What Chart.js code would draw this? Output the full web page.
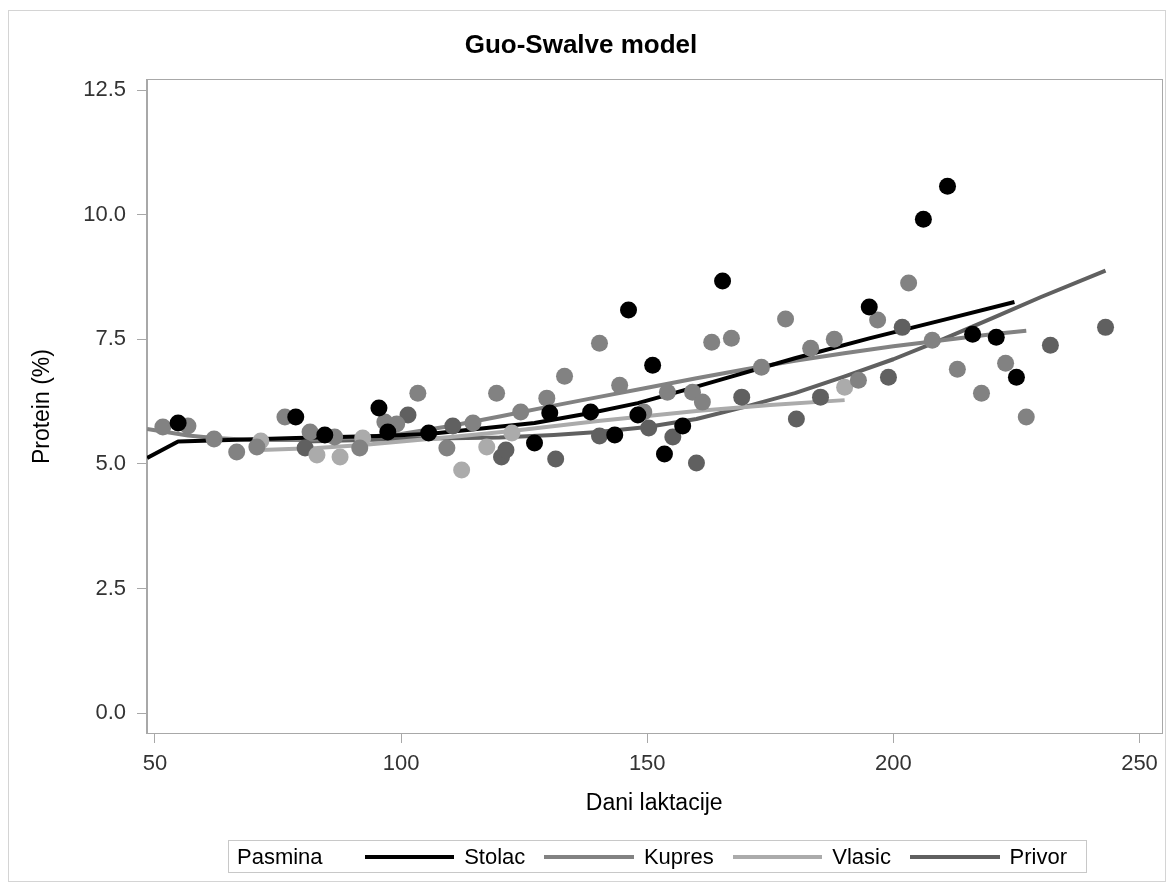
<!DOCTYPE html>
<html>
<head>
<meta charset="utf-8">
<script src="https://cdn.jsdelivr.net/npm/chart.js@4/dist/chart.umd.min.js"></script>
<style>
  html, body { margin: 0; padding: 0; background: #fff; }
  #wrap { position: relative; width: 1170px; height: 885px; }
  #chart { position: absolute; left: 0; top: 0; }
  #legend {
    position: absolute; left: 228px; top: 840px; width: 857px; height: 31px;
    border: 1px solid #c8c8c8; box-sizing: content-box;
    display: flex; align-items: center; padding: 0;
    font-family: "Liberation Sans", Arial, sans-serif; font-size: 22px; color: #000;
  }
  #legend .ttl { margin-left: 8px; margin-right: 42px; }
  #legend .ln { width: 92px; height: 4px; margin-right: 10px; }
  #legend .tx { margin-right: 19px; }
</style>
</head>
<body>
<div id="wrap">
  <canvas id="chart" width="1170" height="885"></canvas>
  <div id="legend"></div>
</div>
<script>
// ---------------- data ----------------
const chartTitle = 'Guo-Swalve model';
const xAxisTitle = 'Dani laktacije';
const yAxisTitle = 'Protein (%)';
const legendTitle = 'Pasmina';
const seriesNames = ['Stolac', 'Kupres', 'Vlasic', 'Privor'];

const xTickValues = [50, 100, 150, 200, 250];
const yTickValues = [0, 2.5, 5, 7.5, 10, 12.5];

// observed points (day of lactation, protein %)
const stolacDays = [54.7, 78.6, 84.5, 95.5, 97.3, 105.6, 127.1, 130.2, 138.5, 143.4, 146.2, 148.1, 151.1, 153.5, 157.2, 165.3, 195.1, 206.1, 211.0, 216.1, 220.9, 225.0];
const stolacProtein = [5.82, 5.94, 5.58, 6.12, 5.64, 5.62, 5.42, 6.02, 6.04, 5.58, 8.09, 5.98, 6.98, 5.20, 5.76, 8.67, 8.15, 9.91, 10.57, 7.60, 7.54, 6.74];

const kupresDays = [51.6, 56.7, 62.0, 66.6, 70.7, 76.4, 81.5, 86.5, 91.6, 96.7, 99.1, 103.4, 109.3, 114.6, 119.4, 124.3, 129.6, 133.2, 140.3, 144.4, 149.3, 154.1, 159.2, 161.2, 163.1, 167.1, 173.2, 178.1, 183.2, 188.0, 192.9, 196.8, 203.1, 207.9, 213.0, 217.9, 222.8, 227.0];
const kupresProtein = [5.74, 5.76, 5.50, 5.24, 5.34, 5.94, 5.64, 5.54, 5.32, 5.84, 5.80, 6.42, 5.32, 5.82, 6.42, 6.04, 6.32, 6.76, 7.42, 6.58, 6.04, 6.44, 6.44, 6.24, 7.44, 7.52, 6.94, 7.91, 7.32, 7.50, 6.68, 7.89, 8.63, 7.48, 6.90, 6.42, 7.02, 5.94];

const vlasicDays = [71.5, 82.9, 87.6, 92.2, 112.3, 117.4, 122.5, 190.1];
const vlasicProtein = [5.46, 5.18, 5.14, 5.52, 4.88, 5.34, 5.62, 6.54];

const privorDays = [80.5, 101.4, 110.5, 120.4, 121.3, 131.4, 140.3, 150.3, 155.2, 160.0, 169.2, 180.3, 185.2, 199.0, 201.8, 231.9, 243.1];
const privorProtein = [5.32, 5.98, 5.76, 5.14, 5.28, 5.10, 5.56, 5.72, 5.54, 5.02, 6.34, 5.90, 6.34, 6.74, 7.74, 7.38, 7.74];

// fitted model curves
const stolacFitDays = [48.4, 54.7, 78.6, 95.5, 105.6, 127.1, 138.5, 148.1, 157.2, 165.3, 180, 195.1, 211.0, 224.6];
const stolacFitValues = [5.12, 5.45, 5.52, 5.56, 5.60, 5.82, 6.02, 6.22, 6.47, 6.70, 7.12, 7.52, 7.91, 8.25];

const kupresFitDays = [48.4, 56.7, 62, 70, 80, 90, 100, 110, 120, 130, 140, 150, 160, 170, 180, 190, 200, 210, 220, 227];
const kupresFitValues = [5.70, 5.57, 5.52, 5.48, 5.48, 5.52, 5.60, 5.76, 5.95, 6.15, 6.34, 6.53, 6.72, 6.90, 7.07, 7.22, 7.36, 7.48, 7.60, 7.67];

const vlasicFitDays = [71.5, 82.9, 92.2, 100, 112.3, 122.5, 140, 160, 175, 190.1];
const vlasicFitValues = [5.28, 5.32, 5.38, 5.45, 5.56, 5.66, 5.86, 6.06, 6.18, 6.28];

const privorFitDays = [80.5, 100, 120, 131, 140, 150, 160, 170, 180, 190, 200, 210, 220, 230, 243.1];
const privorFitValues = [5.45, 5.50, 5.53, 5.58, 5.64, 5.74, 5.90, 6.15, 6.42, 6.75, 7.10, 7.50, 7.92, 8.35, 8.88];

// ---------------- style ----------------
const seriesColors = ['#000000', '#828282', '#ababab', '#606060'];
const FONT = '"Liberation Sans", Arial, sans-serif';

const obs = [
  [stolacDays, stolacProtein],
  [kupresDays, kupresProtein],
  [vlasicDays, vlasicProtein],
  [privorDays, privorProtein]
];
const fits = [
  [stolacFitDays, stolacFitValues],
  [kupresFitDays, kupresFitValues],
  [vlasicFitDays, vlasicFitValues],
  [privorFitDays, privorFitValues]
];
const toXY = (xs, ys) => xs.map((x, i) => ({ x: x, y: ys[i] }));

const datasets = [];
seriesNames.forEach((name, i) => {
  datasets.push({
    type: 'line',
    label: name,
    data: toXY(fits[i][0], fits[i][1]),
    borderColor: seriesColors[i],
    backgroundColor: seriesColors[i],
    borderWidth: 4,
    pointRadius: 0,
    pointHoverRadius: 0,
    fill: false,
    tension: 0,
    borderJoinStyle: 'round',
    order: 2
  });
});
seriesNames.forEach((name, i) => {
  datasets.push({
    type: 'scatter',
    label: name + ' (obs)',
    data: toXY(obs[i][0], obs[i][1]),
    backgroundColor: seriesColors[i],
    borderColor: seriesColors[i],
    borderWidth: 0,
    pointRadius: 8.5,
    pointHoverRadius: 8.5,
    order: 1
  });
});

const framePlugin = {
  id: 'frame',
  beforeDraw(chart) {
    const ctx = chart.ctx;
    ctx.save();
    ctx.strokeStyle = '#d4d4d4';
    ctx.lineWidth = 1;
    ctx.strokeRect(8.5, 10.5, 1157, 871);
    ctx.restore();
  },
  beforeDatasetsDraw(chart) {
    const a = chart.chartArea, ctx = chart.ctx;
    ctx.save();
    ctx.strokeStyle = '#a8a8a8';
    ctx.lineWidth = 1;
    ctx.strokeRect(Math.round(a.left) - 0.5, Math.round(a.top) - 0.5, Math.round(a.right - a.left) + 1, Math.round(a.bottom - a.top) + 1);
    ctx.restore();
  }
};

new Chart(document.getElementById('chart'), {
  data: { datasets: datasets },
  plugins: [framePlugin],
  options: {
    responsive: false,
    animation: false,
    layout: { padding: { left: 0, right: 8, top: 0, bottom: 0 } },
    plugins: {
      legend: { display: false },
      tooltip: { enabled: false },
      title: {
        display: true,
        text: chartTitle,
        color: '#000',
        font: { family: FONT, size: 26, weight: 'bold' },
        padding: { top: 30, bottom: 19 }
      }
    },
    scales: {
      x: {
        type: 'linear',
        min: 48.38,
        max: 254.47,
        afterBuildTicks: s => { s.ticks = xTickValues.map(v => ({ value: v })); },
        afterFit: s => { s.height = 152; s.paddingLeft = 0; s.paddingRight = 0; },
        ticks: { font: { family: FONT, size: 22 }, color: '#333', padding: 8, maxRotation: 0 },
        grid: { display: true, drawOnChartArea: false, drawTicks: true, tickLength: 10, color: '#a8a8a8' },
        border: { display: true, color: '#a8a8a8' },
        title: { display: true, text: xAxisTitle, color: '#000', font: { family: FONT, size: 23 }, padding: { top: 0, bottom: 68 } }
      },
      y: {
        type: 'linear',
        min: -0.40,
        max: 12.70,
        afterBuildTicks: s => { s.ticks = yTickValues.map(v => ({ value: v })); },
        afterFit: s => { s.width = 147; s.paddingTop = 0; s.paddingBottom = 0; },
        ticks: { font: { family: FONT, size: 22 }, color: '#333', padding: 11, callback: v => Number(v).toFixed(1) },
        grid: { display: true, drawOnChartArea: false, drawTicks: true, tickLength: 10, color: '#a8a8a8' },
        border: { display: true, color: '#a8a8a8' },
        title: { display: true, text: yAxisTitle, color: '#000', font: { family: FONT, size: 23 }, padding: { top: 29, bottom: 0 } }
      }
    }
  }
});

// HTML legend built from the series names and colours
const lg = document.getElementById('legend');
const t = document.createElement('span');
t.className = 'ttl';
t.textContent = legendTitle;
lg.appendChild(t);
seriesNames.forEach((name, i) => {
  const ln = document.createElement('span');
  ln.className = 'ln';
  ln.style.background = seriesColors[i];
  lg.appendChild(ln);
  const tx = document.createElement('span');
  tx.className = 'tx';
  tx.textContent = name;
  lg.appendChild(tx);
});
</script>
</body>
</html>
